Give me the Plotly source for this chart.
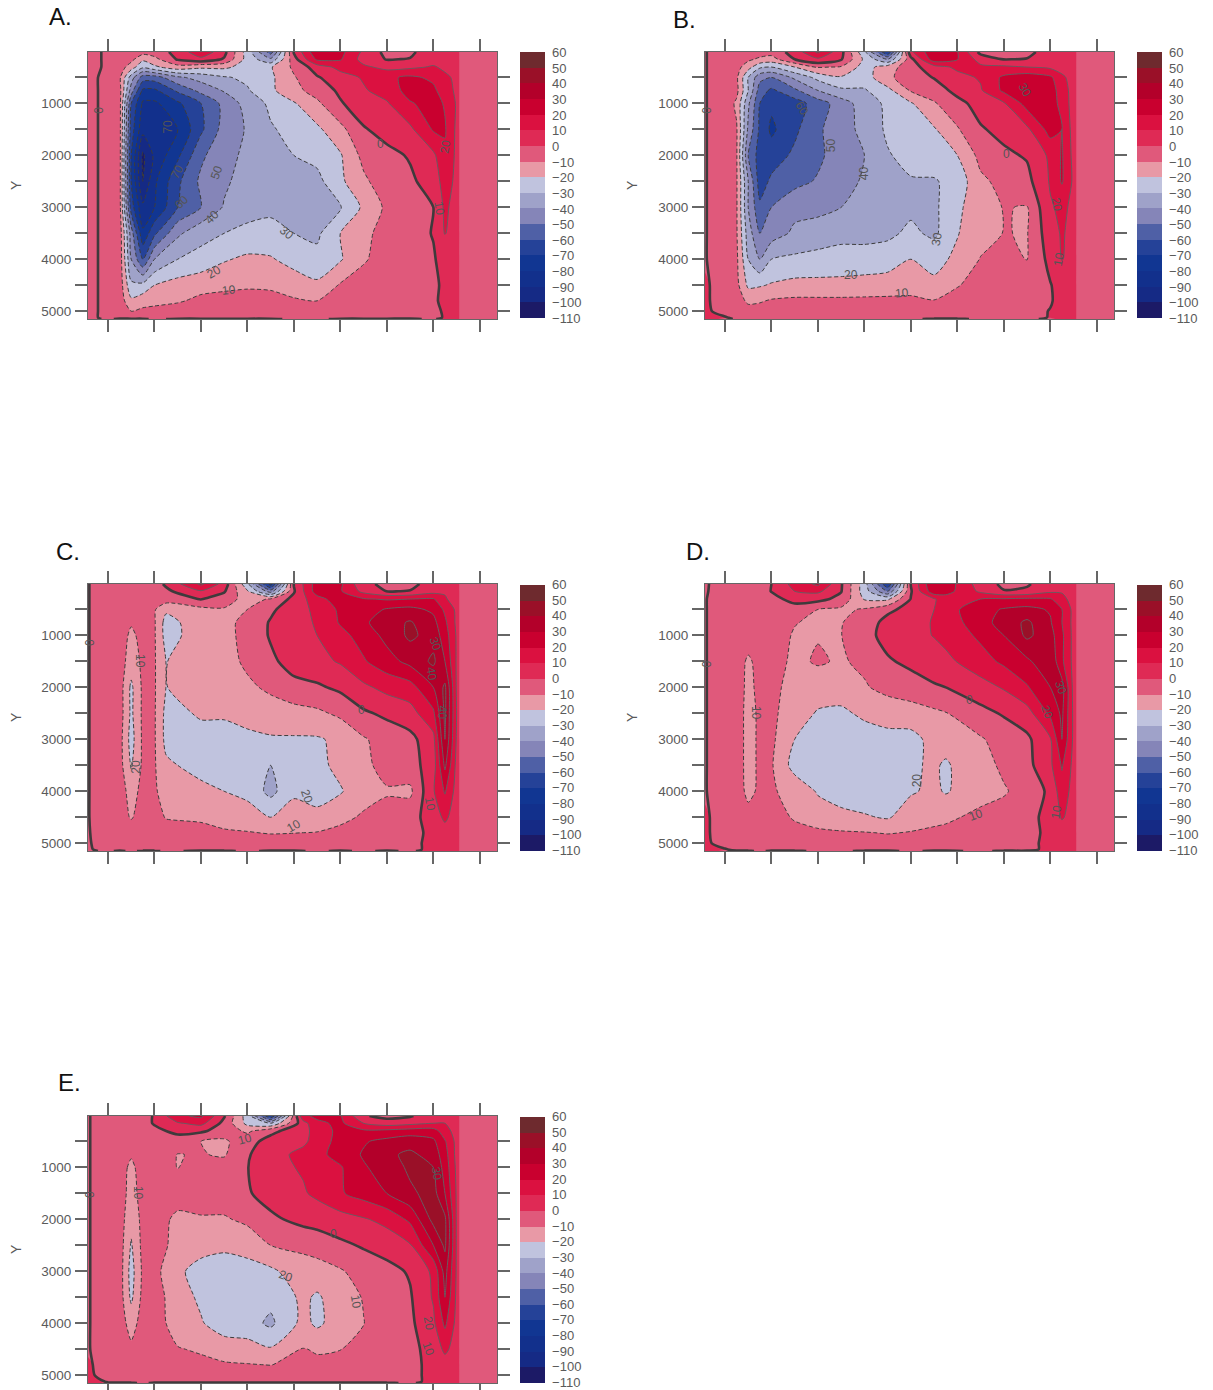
import plotly.graph_objects as go

Y_ROWS = [10, 150, 300, 500, 750, 1000, 1500, 2000, 2500, 3000, 3500, 4000, 4500, 4800, 5000, 5120, 5150]
X_COLS = [-0.43, 0, .25, .5, .75, 1, 1.5, 2, 2.5, 3, 3.5, 4, 4.5, 5, 5.5, 6, 6.5, 7, 7.25, 7.5]
X_COLS_C = [-0.43, 0, .25, .5, .75, 1, 1.25, 2, 2.5, 3, 3.5, 4, 4.5, 5, 5.5, 6, 6.5, 7, 7.25, 7.5]
X_COLS_D = [-0.43, 0, .25, .5, .75, 1, 1.5, 2, 2.5, 3, 3.5, 4, 4.5, 4.75, 5.5, 6, 6.5, 7, 7.25, 7.5]
X_COLS_E = [-0.43, 0, .25, .5, .75, 1, 1.5, 2, 2.5, 3, 3.5, 4.2, 4.5, 5, 5.5, 6, 6.5, 7, 7.25, 7.5]
X_EDGE = [7.555, 7.56, 8.37]
EDGE_VALUE = -5
Y_TICKS = [500, 1000, 1500, 2000, 2500, 3000, 3500, 4000, 4500, 5000]
Y_TEXT = ["", "1000", "", "2000", "", "3000", "", "4000", "", "5000"]
X_TICKS = [0, 1, 2, 3, 4, 5, 6, 7, 8]

A = [
[2,-1,-4,-5,-6,-5,3,18,3,-25,-55,1,28,23,8,-3,-2,6,6,5],
[2,-1,-4,-7,-18,-13,1,7,-1,-24,-38,-4,22,21,6,-0.5,0.5,6,6,6],
[2,-1,-5,-15,-28,-22,-14,-18,-18,-24,-21,-8,5,13,12,7,8,11,8,6],
[2,-2,-8,-35,-55,-55,-42,-36,-31,-28,-22,-11,-1,6,11,18,22,18,12,8],
[2,-2,-6,-45,-72,-72,-58,-47,-39,-31,-22,-13,-6,2,9,14,24,22,15,8],
[2,-2,-6,-60,-82,-82,-72,-60,-47,-36,-28,-21,-12,-1,6,9,19,24,19,9],
[2,-2,-6,-65,-87,-87,-80,-62,-46,-39,-31,-27,-22,-13,-1,4,8,21,21,8],
[2,-2,-6,-70,-102,-88,-72,-52,-43,-38,-32,-30,-27,-21,-7,-3,1,8,18,8],
[2,-2,-6,-70,-100,-82,-62,-48,-42,-35,-34,-33,-33,-22,-12,-4,-2,5,14,8],
[2,-2,-6,-65,-88,-80,-60,-50,-39,-33,-32,-32,-32,-31,-18,-8,-4,0,12,6],
[2,-2,-4,-45,-78,-62,-42,-33,-30,-28,-27,-30,-32,-20,-12,-7,-4,0.5,10.5,5],
[2,-2,-4,-40,-60,-40,-30,-27,-21,-18,-19,-24,-27,-21,-11,-6,-4,-1,4,4],
[2,-2,-4,-28,-27,-20,-16,-13,-12,-11,-11,-14,-18,-9,-6,-5,-4,-2,2,3],
[2,-2,-4,-18,-14,-13,-11,-8,-7,-7,-8,-9,-10,-7,-5,-4,-4,-2,3,3],
[2,-2,-3,-10,-8,-7,-6,-5,-5,-5,-5,-5,-5,-5,-4,-4,-3,-3,1.5,3],
[2,-2,-3,-4,-4,-4,-4,-4,-4,-4,-4,-4,-4,-4,-4,-4,-3,-3,1,3],
[2,-1,1,1,1,-1,1,1,1,1,1,-1,-1,1,1,1,1,-1,3,3],
]
B = [
[0.3,-3,-4,-4,-5,-6,4,22,3,-28,-70,8,28,20.5,-3,-4,-3,5,6,6],
[0.3,-3,-4,-8,-12,-14,0,8,1,-22,-40,-3,26,20.5,6,-0.3,0.5,7,7,6],
[0.3,-3,-6,-16,-28,-30,-20,-9,-11,-24,-15,-4,6,12,12,12,10,8,6,5],
[0.3,-3,-8,-30,-47,-50,-38,-27,-21,-25,-12,-5,0.5,7,11,22,26,22,12,6],
[0.3,-3,-7,-30,-55,-62,-52,-40,-32,-31,-23,-9,-5,3,9,22,27,25,15,6],
[0.3,-3,-12,-38,-60,-68,-65,-55,-45,-35,-28,-21,-11,-3,4,9,24,26,16,6],
[0.3,-3,-9,-42,-62,-72,-62,-52,-43,-38,-28,-25,-21,-11,-1,3,8,24,20,6],
[0.3,-3,-9,-50,-65,-65,-58,-52,-45,-40,-31,-26,-24,-20,-7,-2,1,12,21,7],
[0.3,-3,-9,-40,-65,-58,-53,-49,-43,-39,-33,-31,-31,-26,-12,-7,-3,11,21,8],
[0.3,-3,-9,-40,-58,-50,-43,-43,-40,-33,-33,-32,-32,-22,-14,-9.6,-10.5,9,12,8],
[0.3,-3,-9,-35,-50,-45,-38,-35,-33,-33,-32,-28,-32,-20.5,-14,-9.7,-10.5,6,11,7],
[0.3,-3,-8,-30,-40,-30,-28,-27,-26,-26,-25,-20,-23,-18,-9.5,-8,-10.2,3,10.5,6],
[3,-9.5,-7,-22,-21,-19,-17,-17,-17,-16,-15,-14,-18,-10.5,-7,-6,-5,-0.5,4,4],
[3,-9,-5,-12,-11,-9,-8,-8,-8,-8,-8,-8,-9.5,-7,-6,-5,-5,-1,4,4],
[3,-5.6,-5,-6,-6,-6,-6,-6,-6,-6,-5,-5,-5,-5,-5,-5,-4,0.5,4,4],
[5,1,-3,-3,-3,-3,-3,-3,-3,-3,-3,-3,-3,-3,-3,-3,-3,0.5,4,4],
[6,2,-1,-1,-1,-1,-1,-1,-1,-1,-1,-1,1,1,-1,-1,-1,1,4,4],
]
C = [
[0.3,-4,-4,-4,-4,-4,1.5,22,6,-28,-75,0.5,25,22,2,-2,-2,3,6,5],
[0.3,-4,-4,-4,-4,-4,-2,9,1,-19,-45,-1,25,21,7,-0.3,0.3,6,9,6],
[0.3,-4,-4,-4,-4,-7,-5,0.5,-5,-14,-9,3,16,26,21,19,20,21,11,6],
[0.3,-4,-4,-4,-4,-9,-18,-13,-11,-10,-2,6,12,22,25,31,33,28,18,8],
[0.3,-4,-4,-9,-5,-9,-24,-14,-12,-8,1,6,11,21,28,36,41,33,22,8],
[0.3,-4,-5,-12,-7,-9,-24,-15,-13,-7,1,5,10,17,24,33,42,36,25,9],
[0.3,-4,-5,-15,-8,-9,-20.2,-16,-14,-8,-2,4,7,11,19,26,33,42,30,9],
[0.3,-4,-5,-22,-8,-9,-20.2,-16,-14,-12,-8,-3,-1.5,2,8,13,16,30,42,9],
[0.3,-4,-5,-22,-8,-9,-23,-19,-19,-17,-15,-14,-12,-8,-1.5,2,6,18,42,10],
[0.3,-4,-6,-24,-8,-9,-23,-23,-23,-22,-21,-21,-21,-18,-11,-6,-3,7,40,9],
[0.3,-4,-6,-21,-8,-9,-18,-24,-26,-26,-30,-24,-23,-17,-12,-7,-4,5,32,7],
[0.3,-4,-5,-14,-7,-9,-13,-17,-20,-23,-33,-22,-23,-21,-13,-10.8,-12,9,21,6],
[0.3,-4,-5,-11,-5,-7,-10.5,-12,-13,-15,-20,-15,-18,-12,-9,-7,-4,5,12,5],
[0.5,-4,-4,-4,-4,-4,-6,-6,-9,-9.5,-10.5,-10.2,-9.5,-8,-6,-5,-4,3,6,5],
[0.8,-4,-4,-4,-4,-4,-4,-4,-5,-5,-6,-5,-5,-5,-4,-4,-4,4,5,5],
[1,-3,-3,-3,-3,-3,-3,-3,-3,-3,-3,-3,-3,-3,-3,-3,-3,3,5,5],
[1,-1,1,-1,1,1,-1,1,1,-1,1,1,-1,1,-1,1,-1,3,5,5],
]
D = [
[1,-4,-4,-4,-4,0,14,22,1,-25,-70,0.5,30,26,5,-2,-1,5,8,6],
[0.8,-4,-4,-4,-4,0.3,10,12,0.5,-25,-50,-1,27,24,8,0.5,1.5,8,9,6],
[0.4,-4,-4,-4,-4,-3,3,3,-3,-21,-22,0.5,9,15,20,21,22,21,13,6],
[0.4,-4,-4,-4,-4,-4,-4,-10,-12,-9,-2,3,10,16,26,31,33,29,20,7],
[0.4,-4,-4,-4,-4,-4,-9.5,-12,-10.5,-5,3,5,11,14,26,34,42,31,20,7],
[0.4,-4,-4,-4,-4,-5,-11,-10.5,-10.2,-3,3,6,10.5,13,22,30,42,34,22,7],
[0.4,-4,-4,-12,-6,-6,-12,-9,-11,-8,-1,2,5,7.5,16,22,28,38,22,7],
[0.4,-4,-4,-13,-7,-7,-14,-15,-15,-11,-7,-4,-1,0,6,11,19,30,34,7],
[0.4,-4,-4,-14,-8,-8,-15,-21,-22,-18,-16,-15,-12,-10.5,-3,1,6,22,32,8],
[0.4,-4,-4,-14,-8,-8,-20,-24,-25,-25,-23,-23,-17,-17,-11,-6,-2,9,30,8],
[0.4,-4,-4,-14,-8,-9,-24,-26,-26,-26,-27,-21,-19,-21,-14,-8,-3,8,21,7],
[0.4,-4,-4,-13,-8,-9,-13,-21,-25,-26,-29,-21,-18,-21,-13,-11,-6,2,16,6],
[3,-9.5,-4,-6,-5,-6,-11,-15,-17,-19,-21,-15,-13,-11.5,-8,-6,-3,3,11,6],
[3,-9,-4,-4,-4,-4,-7,-8,-9,-9.5,-10.5,-9.5,-8,-8,-6,-5,-4,3,5,5],
[3,-6,-4,-4,-4,-4,-4,-5,-5,-5,-6,-5,-5,-5,-4,-4,-3,3,5,5],
[5,1,-3,-3,-3,-3,-3,-3,-3,-3,-3,-3,-3,-3,-3,-3,-3,3,5,5],
[6,2,1,1,-1,1,1,-1,-1,1,1,-1,1,1,-1,1,1,3,5,5],
]
E = [
[0.5,-4,-4,-4,-4,1,18,22,1,-25,-70,18,22,21,1,-3,-1,6,9,6],
[0.5,-4,-4,-4,-4,1,9,13,-3,-23,-30,6,18,22,10,5,7,10,10,6],
[0.5,-4,-4,-4,-4,-3,3,1.5,-4,-12,-2,5,16,22,22,23,25,25,14,6],
[0.5,-4,-4,-4,-4,-4,-6,-10,-12,-3,3,8,14,24,29,33,36,32,21,7],
[0.5,-4,-6,-9,-5,-6,-10.2,-9.5,-11,-1,6,13,17,24,31,38,42,36,24,7],
[0.5,-4,-6,-12,-6,-6,-10.2,-7,-6,-0.3,7,11,14,19,29,34,42,40,26,8],
[0.5,-4,-6,-13,-7,-6,-6,-5,-5,-1,4,9,12,19,24,30,38,44,30,9],
[0.5,-4,-5,-17,-7,-6,-12,-11,-11,-8,-2,3,4,6,9,13,22,43,42,9],
[0.5,-4,-5,-21,-7,-6,-13,-16,-18,-16,-10,-8,-6,-2,1,4,9,30,42,9],
[0.5,-4,-5,-24,-8,-7,-18,-24,-25,-24,-22,-14,-14,-11,-6,-3,1,12,34,9],
[0.5,-4,-5,-22,-7,-6,-15,-22,-26,-26,-27,-18,-21.5,-14,-9.5,-6,-1,11,30,8],
[0.5,-4,-5,-14,-6,-6,-14,-19,-26,-26,-32,-17,-22,-15,-10.2,-6,-2,8,22,7],
[0.5,-4,-4,-8,-5,-6,-9.5,-11,-14,-16,-19,-9.5,-11,-10.2,-7,-5,-3,4,12,6],
[3,-9.5,-4,-4,-4,-4,-5,-8,-9,-9.5,-10.2,-8,-8,-7,-5,-4,-3,3,6,5],
[3,-6,-4,-4,-4,-4,-4,-4,-4,-4,-4,-4,-4,-4,-4,-4,-3,3,5,5],
[5,-1,-3,-3,-3,-3,-3,-3,-3,-3,-3,-3,-3,-3,-3,-3,-3,3,5,5],
[6,1,1,1,-1,1,1,1,1,1,1,1,1,1,1,1,-1,3,5,5],
]

BAND_COLORS = ["#1C1A66", "#152A85", "#12308C", "#113692", "#254298", "#4F60A6", "#8585B8", "#9FA2C9",
               "#C0C3DE", "#E899A6", "#E0597B", "#DF2A55", "#DB1140", "#C9002F", "#B3002A", "#9A1028", "#6E2A2E"]

LABELS = {
    "A": [(255,332,"0",-90),(432,380,"70",-90),(455,515,"70",-60),(558,517,"50",-70),(468,607,"60",-45),(545,650,"40",-45),
          (738,697,"30",40),(550,815,"20",-30),(590,870,"10",-5),(978,432,"0",0),(1145,438,"20",-80),(1128,625,"10",80)],
    "B": [(250,332,"0",-90),(498,325,"60",60),(575,435,"50",-90),(662,520,"40",-90),(848,715,"30",-80),(625,825,"20",0),
          (758,877,"10",-5),(1030,463,"0",0),(1160,612,"20",80),(1165,775,"10",-80),(1078,270,"30",60)],
    "C": [(232,338,"0",-90),(360,392,"10",90),(348,708,"20",-90),(790,798,"20",70),(755,887,"10",-30),(930,540,"0",0),
          (1120,340,"30",70),(1110,430,"40",80),(1135,545,"40",90),(1105,820,"10",80)],
    "D": [(252,400,"0",-90),(380,548,"10",90),(797,750,"20",-90),(950,853,"10",-20),(935,510,"0",0),(1172,472,"30",70),
          (1135,545,"20",70),(1160,845,"10",-80)],
    "E": [(232,405,"0",-90),(357,398,"10",90),(735,648,"20",20),(915,725,"10",80),(630,237,"10",-15),(857,523,"0",0),
          (1122,340,"30",80),(1103,790,"20",80),(1102,865,"10",70)],
}

W, H = 1213, 1395
MB = 12
PANELS = [
    ("A", A, X_COLS, 88, 52, 47, 17, 278, 119.4, 155),
    ("B", B, X_COLS, 705, 52, 671, 19, 299, 120.7, 155),
    ("C", C, X_COLS_C, 88, 584, 54, 551, 278, 119.4, 160),
    ("D", D, X_COLS_D, 705, 584, 684, 551, 299, 120.7, 160),
    ("E", E, X_COLS_E, 88, 1116, 56, 1082, 278, 119.4, 167),
]
PW, PH = 409, 267
INK = "#5a5a5a"
COLORSCALE = [[k / 16, c] for k, c in enumerate(BAND_COLORS)]


def yp(p):
    return max(0.0, 1 - p / (H - MB))


def fill_rows(rows):
    out = []
    for i, row in enumerate(rows):
        new = [(-3 if (j == 0 or i == len(rows) - 1) and 0 < v <= 2.5 else v) for j, v in enumerate(row)]
        out.append(new + [new[-1], EDGE_VALUE, EDGE_VALUE])
    return out


def line_rows(rows):
    return [row + [row[-1]] * 3 for row in rows]


SMOOTH = 0.7
fig = go.Figure()
layout = dict(width=W, height=H, margin=dict(l=0, r=0, t=0, b=MB), paper_bgcolor="white", plot_bgcolor="white",
              showlegend=False, font=dict(family="Liberation Sans, Arial, sans-serif", color=INK))
annotations = []
for n, (name, rows, xcols, px, py, tx, ty, zx0, zxs, ztop) in enumerate(PANELS, start=1):
    xa, ya = ("x", "y") if n == 1 else (f"x{n}", f"y{n}")
    xs = xcols + X_EDGE
    fig.add_trace(go.Contour(
        x=xs, y=Y_ROWS, z=fill_rows(rows), xaxis=xa, yaxis=ya, zmin=-110, zmax=60, zauto=False,
        autocontour=False, colorscale=COLORSCALE, hoverinfo="skip",
        contours=dict(start=-100, end=50, size=10, coloring="fill", showlines=False),
        line=dict(width=0, smoothing=SMOOTH),
        colorbar=dict(x=(px + 432) / W, xanchor="left", xpad=0, ypad=0,
                      y=yp(py + PH / 2), yanchor="middle",
                      thickness=25, thicknessmode="pixels", len=PH - 1, lenmode="pixels", outlinewidth=0,
                      tick0=-110, dtick=10, ticks="outside", ticklen=5, tickcolor="rgba(255,255,255,0)",
                      tickfont=dict(size=13, color=INK)),
    ))
    lz = line_rows(rows)
    for st, en, dash, w, col in [(-110, -10, "4px,2.5px", 1, "#3c3c3c"), (10, 60, "solid", 1, "#6a5a60"), (0, 0, "solid", 2.6, "#3f3a3c")]:
        fig.add_trace(go.Contour(
            x=xs, y=Y_ROWS, z=lz, xaxis=xa, yaxis=ya, showscale=False, autocontour=False, hoverinfo="skip",
            colorscale=[[0, col], [1, col]],
            contours=dict(start=st, end=en, size=10, coloring="none"),
            line=dict(width=w, dash=dash, color=col, smoothing=SMOOTH),
        ))
    suffix = "" if n == 1 else str(n)
    layout["xaxis" + suffix] = dict(domain=[px / W, (px + PW) / W], range=[-0.43, 8.37], anchor=ya, showgrid=False, zeroline=False,
                                    tickmode="array", tickvals=X_TICKS, showticklabels=False, ticks="outside", ticklen=12,
                                    tickcolor="#666666", tickwidth=1.5, showline=True, linecolor="#666666", linewidth=1, mirror="allticks")
    layout["yaxis" + suffix] = dict(domain=[yp(py + PH), yp(py)], range=[5150, 10], anchor=xa, showgrid=False, zeroline=False,
                                    tickmode="array", tickvals=Y_TICKS, ticktext=Y_TEXT, ticks="outside", ticklen=12,
                                    tickcolor="#666666", tickwidth=1.5, showline=True, linecolor="#666666", linewidth=1, mirror="allticks",
                                    ticklabelstandoff=1, tickfont=dict(size=13.5, color=INK))
    annotations.append(dict(text=f"{name}.", xref="paper", yref="paper", x=tx / W, y=yp(ty), xanchor="left", yanchor="middle",
                            showarrow=False, font=dict(size=24, color="#111111")))
    annotations.append(dict(text="Y", xref="paper", yref="paper", x=16 / W if px < 300 else 632 / W, y=yp(py + 133),
                            xanchor="center", yanchor="middle", textangle=-90, showarrow=False, font=dict(size=14, color=INK)))
    for zx, zy, text, angle in LABELS[name]:
        annotations.append(dict(text=text, xref=xa, yref=ya, x=(zx - zx0) / zxs, y=(zy - ztop) / 0.1555, showarrow=False,
                                textangle=angle, font=dict(size=12, color="#555555")))
layout["annotations"] = annotations
fig.update_layout(**layout)
fig.write_html("out.html", post_script="document.body.style.margin='0';document.body.style.overflow='hidden';document.documentElement.style.overflow='hidden';",
               config={"displayModeBar": False})
